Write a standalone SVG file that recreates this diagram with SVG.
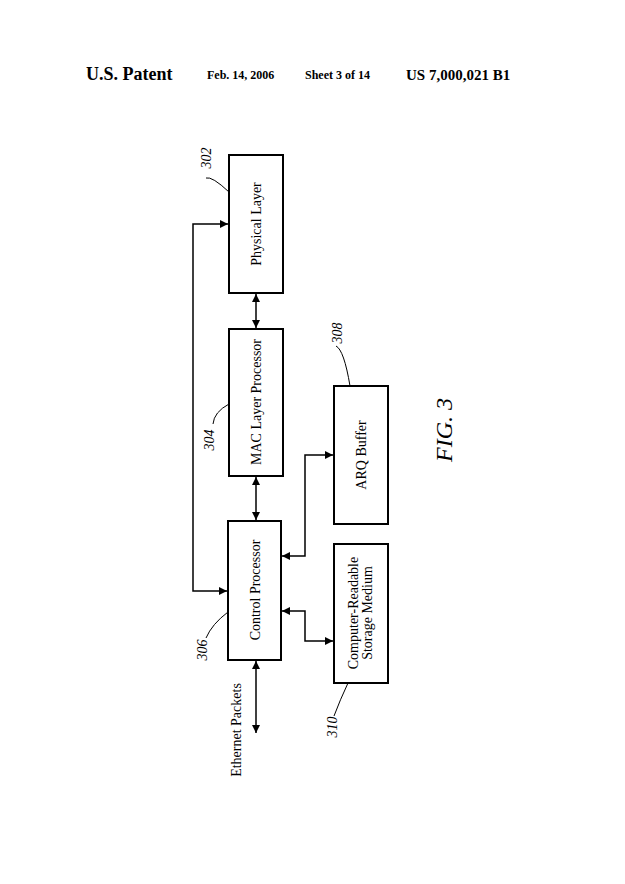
<svg xmlns="http://www.w3.org/2000/svg" width="625" height="884" viewBox="0 0 625 884">
<style>
text{font-family:"Liberation Serif","Times New Roman",serif;fill:#000}
.b{fill:#fff;stroke:#000;stroke-width:2}
.l{fill:none;stroke:#000;stroke-width:1.5}
.t{font-size:14px;text-anchor:middle}
.n{font-size:14px;font-style:italic;text-anchor:middle}
.h{font-size:14px;font-weight:bold}
</style>
<defs>
<marker id="a" viewBox="0 0 10 10" refX="10" refY="5" markerWidth="8" markerHeight="8" orient="auto-start-reverse" markerUnits="userSpaceOnUse"><path d="M0,0L10,5L0,10z"/></marker>
</defs>
<rect width="625" height="884" fill="#fff"/>
<text x="86" y="80" style="font-size:18px;font-weight:bold">U.S. Patent</text>
<text x="207" y="79" class="h" style="font-size:12px">Feb. 14, 2006</text>
<text x="305" y="79" class="h" style="font-size:12px">Sheet 3 of 14</text>
<text x="406" y="80" class="h" style="font-size:15px">US 7,000,021 B1</text>
<g id="physical"><rect class="b" x="229" y="155" width="54" height="138"/><text class="t" transform="translate(261,224) rotate(-90)">Physical Layer</text></g>
<g id="mac"><rect class="b" x="229" y="329" width="54" height="147"/><text class="t" transform="translate(261,402) rotate(-90)">MAC Layer Processor</text></g>
<g id="control"><rect class="b" x="228" y="521" width="53" height="139"/><text class="t" transform="translate(260,590) rotate(-90)">Control Processor</text></g>
<g id="arq"><rect class="b" x="334" y="386" width="54" height="138"/><text class="t" transform="translate(366,455) rotate(-90)">ARQ Buffer</text></g>
<g id="storage"><rect class="b" x="334" y="544" width="54" height="139"/><text class="t" transform="translate(358,613) rotate(-90)">Computer-Readable</text><text class="t" transform="translate(372,613) rotate(-90)">Storage Medium</text></g>
<g id="ethernet"><text class="t" transform="translate(241,730) rotate(-90)">Ethernet Packets</text></g>
<g id="labels">
<text class="n" transform="translate(211,158) rotate(-90)">302</text>
<path class="l" style="stroke-width:1" d="M206,178 Q212,176 229,192"/>
<text class="n" transform="translate(214,440) rotate(-90)">304</text>
<path class="l" style="stroke-width:1" d="M213,424 Q214,412 229,404"/>
<text class="n" transform="translate(207,650) rotate(-90)">306</text>
<path class="l" style="stroke-width:1" d="M206,638 Q212,624 228,612"/>
<text class="n" transform="translate(342,333) rotate(-90)">308</text>
<path class="l" style="stroke-width:1" d="M336,346 Q344,350 350,386"/>
<text class="n" transform="translate(337,727) rotate(-90)">310</text>
<path class="l" style="stroke-width:1" d="M334,716 Q340,700 348,683"/>
<text transform="translate(452,430) rotate(-90)" style="font-size:24px;font-style:italic;text-anchor:middle">FIG. 3</text>
</g>
<g id="connectors">
<path class="l" d="M256,294V328" marker-start="url(#a)" marker-end="url(#a)"/>
<path class="l" d="M256,477V520" marker-start="url(#a)" marker-end="url(#a)"/>
<path class="l" d="M256,661V733" marker-start="url(#a)" marker-end="url(#a)"/>
<path class="l" d="M228,224H193V591H227" marker-start="url(#a)" marker-end="url(#a)"/>
<path class="l" d="M282,556H305V455H333" marker-start="url(#a)" marker-end="url(#a)"/>
<path class="l" d="M282,611H305V641H333" marker-start="url(#a)" marker-end="url(#a)"/>
</g>
</svg>
